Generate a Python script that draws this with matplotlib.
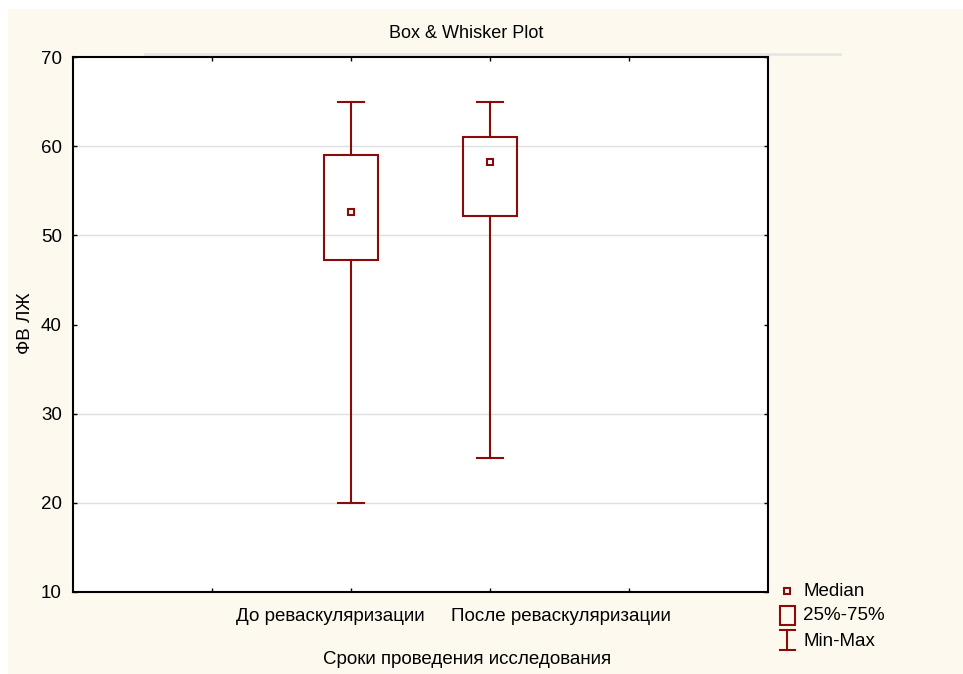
import matplotlib.pyplot as plt
from matplotlib.lines import Line2D
from matplotlib.patches import Rectangle

plt.rcParams['font.family'] = ['Liberation Sans', 'DejaVu Sans']

# ==============================================
# Data
# ==============================================
groups = ['До реваскуляризации', 'После реваскуляризации']
group_pos = [2, 3]
label_pos = [1.85, 3.51]
mins = [20, 25]
q1 = [47.2, 52.2]
medians = [52.6, 58.2]
q3 = [59, 61]
maxs = [65, 65]
grid_levels = [20, 30, 50, 60]

red = '#8B0A0A'
cream = '#FEF9EE'

fig = plt.figure(figsize=(9.63, 6.74), dpi=100, facecolor='white')
fig.add_artist(Rectangle((8 / 963, 0), 1, 1 - 9 / 674, transform=fig.transFigure,
                         facecolor=cream, edgecolor='none', zorder=-10))
# faint shadow line above the frame
fig.add_artist(Line2D([145 / 963, 840 / 963], [1 - 54 / 674] * 2, color='#E6E6E6', lw=2, zorder=-5))

ax = fig.add_axes([73 / 963, 1 - 592 / 674, 695 / 963, 535 / 674])
ax.set_facecolor('white')
ax.set_xlim(0, 5)
ax.set_ylim(10, 70)

for g in grid_levels:
    ax.axhline(g, color='#E0E0E0', lw=1, zorder=0)

box_w = 0.39
cap_w = 0.19
for x, lo, a, m, b, hi in zip(group_pos, mins, q1, medians, q3, maxs):
    ax.plot([x, x], [lo, a], color=red, lw=1.5)
    ax.plot([x, x], [b, hi], color=red, lw=1.5)
    ax.plot([x - cap_w / 2, x + cap_w / 2], [lo, lo], color=red, lw=1.5)
    ax.plot([x - cap_w / 2, x + cap_w / 2], [hi, hi], color=red, lw=1.5)
    ax.add_patch(Rectangle((x - box_w / 2, a), box_w, b - a, facecolor='none',
                           edgecolor=red, lw=1.5))
    ax.plot(x, m, marker='s', ms=5, mfc='white', mec=red, mew=1.5)

ax.set_xticks([1, 2, 3, 4])
ax.set_xticklabels([])
ax.set_yticks(range(10, 71, 10))
ax.tick_params(direction='in', length=3, width=1, top=True, right=True, labelsize=13.5,
               colors='black', pad=8)
for s in ax.spines.values():
    s.set_linewidth(1.5)

for x, name in zip(label_pos, groups):
    ax.text(x, -0.03, name, transform=ax.get_xaxis_transform(), ha='center', va='top', fontsize=13.5)

fig.text(466 / 963, 1 - 33 / 674, 'Box & Whisker Plot', ha='center', va='center', fontsize=13)
fig.text(467 / 963, 1 - 660 / 674, 'Сроки проведения исследования', ha='center', va='center', fontsize=13.5)
fig.text(25 / 963, 1 - 323 / 674, 'ФВ ЛЖ', ha='center', va='center', rotation=90, fontsize=13.5)

# ==============================================
# Legend drawn by hand in figure pixels
# ==============================================
def fx(px):
    return px / 963

def fy(py):
    return 1 - py / 674

fig.add_artist(Line2D([fx(787)], [fy(591)], marker='s', ms=5, mfc='white', mec=red, mew=1.5))
fig.add_artist(Rectangle((fx(780), fy(625)), fx(15), 19 / 674, transform=fig.transFigure,
                         facecolor='none', edgecolor=red, lw=1.5))
fig.add_artist(Line2D([fx(787), fx(787)], [fy(630), fy(650)], color=red, lw=1.5))
fig.add_artist(Line2D([fx(780), fx(795)], [fy(630), fy(630)], color=red, lw=1.5))
fig.add_artist(Line2D([fx(780), fx(795)], [fy(650), fy(650)], color=red, lw=1.5))
for py, t in zip([592, 615, 641], ['Median', '25%-75%', 'Min-Max']):
    fig.text(fx(803), fy(py), t, ha='left', va='center', fontsize=13.5)

fig.savefig('out.png', dpi=100, facecolor=fig.get_facecolor())
